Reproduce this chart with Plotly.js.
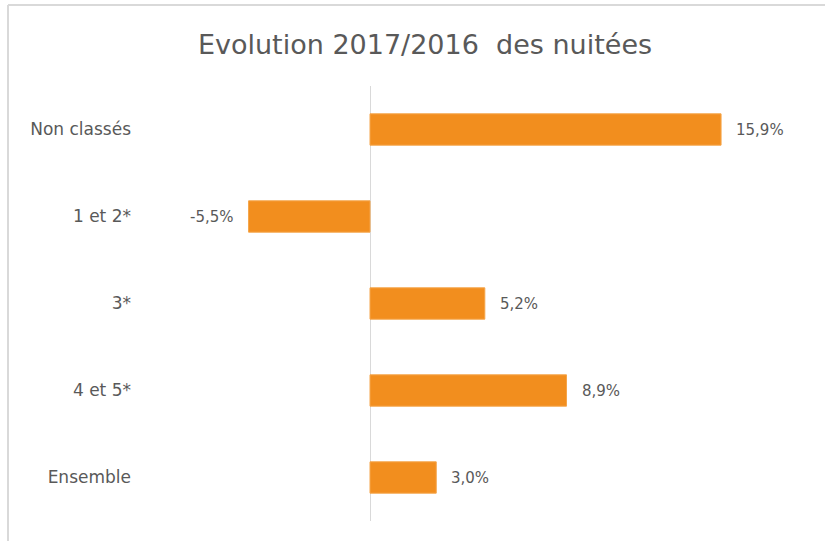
<!DOCTYPE html>
<html>
<head>
<meta charset="utf-8">
<script src="https://cdn.plot.ly/plotly-3.0.1.min.js"></script>
<style>html,body{margin:0;padding:0;background:#fff;}#chart{width:825px;height:541px;}</style>
</head>
<body>
<div id="chart"></div>
<script>
const categories = ["Non classés", "1 et 2*", "3*", "4 et 5*", "Ensemble"];
const values = [15.9, -5.5, 5.2, 8.9, 3.0];
const valueLabels = ["15,9%", "-5,5%", "5,2%", "8,9%", "3,0%"];

const W = 825, H = 541;
const m = {l: 132, r: 25, t: 86, b: 20};
const pw = W - m.l - m.r, ph = H - m.t - m.b;
const px = X => (X - m.l) / pw;
const py = Y => (H - m.b - Y) / ph;

const trace = {
  type: 'bar',
  orientation: 'h',
  x: values,
  y: categories,
  marker: {color: '#F28E1E', line: {color: '#F5A54A', width: 1}},
  hoverinfo: 'none'
};

const annotations = values.map((v, i) => ({
  x: v, y: categories[i], xref: 'x', yref: 'y',
  text: valueLabels[i], showarrow: false,
  xanchor: v >= 0 ? 'left' : 'right',
  xshift: v >= 0 ? 13 : -13,
  font: {family: 'DejaVu Sans', size: 15, color: '#595959'}
}));

const layout = {
  width: W, height: H,
  margin: m,
  paper_bgcolor: '#fff', plot_bgcolor: '#fff',
  showlegend: false,
  bargap: 0.64,
  font: {family: 'DejaVu Sans', color: '#595959'},
  title: {
    text: 'Evolution 2017/2016\u00a0 des nuitées',
    font: {family: 'DejaVu Sans', size: 27, color: '#595959'},
    xref: 'container', x: 425 / W, xanchor: 'center',
    yref: 'container', y: 1 - 45 / H, yanchor: 'middle'
  },
  xaxis: {
    range: [-(370 - m.l) / 22.08, (W - m.r - 370) / 22.08],
    showgrid: false, showticklabels: false, ticks: '',
    zeroline: true, zerolinecolor: '#d9d9d9', zerolinewidth: 1,
    showline: false, fixedrange: true
  },
  yaxis: {
    autorange: 'reversed',
    showgrid: false, zeroline: false, showline: false, ticks: '',
    tickfont: {family: 'DejaVu Sans', size: 17, color: '#595959'},
    ticklabelstandoff: 0,
    fixedrange: true
  },
  annotations: annotations,
  shapes: [
    {type: 'line', xref: 'paper', yref: 'paper', x0: px(8), x1: px(W), y0: py(5), y1: py(5), line: {color: '#d9d9d9', width: 2}},
    {type: 'line', xref: 'paper', yref: 'paper', x0: px(8), x1: px(8), y0: py(5), y1: py(H), line: {color: '#d9d9d9', width: 2}}
  ]
};

Plotly.newPlot('chart', [trace], layout, {displayModeBar: false, staticPlot: true});
</script>
</body>
</html>
